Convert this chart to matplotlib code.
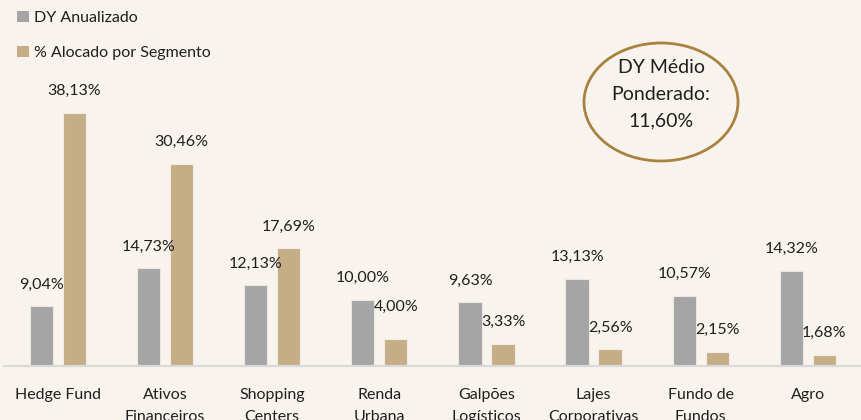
import matplotlib.pyplot as plt
import numpy as np
from matplotlib.patches import Ellipse, Patch

plt.rcParams["font.family"] = ["Lato", "DejaVu Sans"]

categories = ["Hedge Fund", "Ativos\nFinanceiros", "Shopping\nCenters", "Renda\nUrbana",
              "Galpões\nLogísticos", "Lajes\nCorporativas", "Fundo de\nFundos", "Agro"]
dy_anualizado = [9.04, 14.73, 12.13, 10.00, 9.63, 13.13, 10.57, 14.32]
alocado = [38.13, 30.46, 17.69, 4.00, 3.33, 2.56, 2.15, 1.68]
dy_medio = 11.60

bg = "#F8F4ED"
gray = "#A5A5A5"
tan = "#C5AD86"
txt = "#1F1F1F"

fig = plt.figure(figsize=(8.62, 4.2), dpi=100, facecolor=bg)
ax = fig.add_axes([0.0051, 0.1286, 0.9942, 0.8714])
ax.set_facecolor(bg)

x = np.arange(len(categories))
w = 0.2175
off = 0.154
b1 = ax.bar(x - off, dy_anualizado, w, color=gray, edgecolor="#ECE8E1", linewidth=0.8,
            label="DY Anualizado", zorder=2)
b2 = ax.bar(x + off, alocado, w, color=tan, edgecolor="#F2ECE2", linewidth=0.8,
            label="% Alocado por Segmento", zorder=2)

def fmt(v):
    return f"{v:.2f}%".replace(".", ",")

# excel puts the 4,00% label a bit higher than the rest
extra = {3: 8}
for i, r in enumerate(b1):
    ax.annotate(fmt(dy_anualizado[i]), (r.get_x() + r.get_width() / 2, r.get_height()),
                xytext=(0, 15.5), textcoords="offset points", ha="center", va="center",
                fontsize=11.5, color=txt)
for i, r in enumerate(b2):
    ax.annotate(fmt(alocado[i]), (r.get_x() + r.get_width() / 2, r.get_height()),
                xytext=(0, 15.5 + extra.get(i, 0)), textcoords="offset points",
                ha="center", va="center", fontsize=11.5, color=txt)

ax.set_xlim(-0.5, len(categories) - 0.5)
ax.set_ylim(0, 55.1)
ax.set_xticks(x)
ax.set_xticklabels(categories, fontsize=11.5, color=txt, linespacing=1.7)
ax.tick_params(axis="x", length=0, pad=16)
ax.set_yticks([])
for s in ["top", "right", "left"]:
    ax.spines[s].set_visible(False)
ax.spines["bottom"].set_color("#D9D9D9")
ax.spines["bottom"].set_linewidth(1.6)

handles = [Patch(facecolor=gray), Patch(facecolor=tan)]
ax.legend(handles, ["DY Anualizado", "% Alocado por Segmento"], loc="upper left",
          bbox_to_anchor=(0.012, 0.99), bbox_transform=fig.transFigure, frameon=False,
          fontsize=11.5, handlelength=0.75, handleheight=0.75, handletextpad=0.3,
          labelspacing=1.3, borderaxespad=0, labelcolor=txt)

circ = Ellipse((6.61, 4.2 - 1.02), 1.54, 1.18, transform=fig.dpi_scale_trans,
               facecolor="none", edgecolor="#A8823F", linewidth=2)
fig.patches.append(circ)
fig.text(6.61 / 8.62, 1 - 0.94 / 4.2, "DY Médio\nPonderado:\n" + fmt(dy_medio),
         ha="center", va="center", fontsize=14, color=txt, linespacing=1.7)

fig.savefig("out.png", dpi=100, facecolor=bg)
